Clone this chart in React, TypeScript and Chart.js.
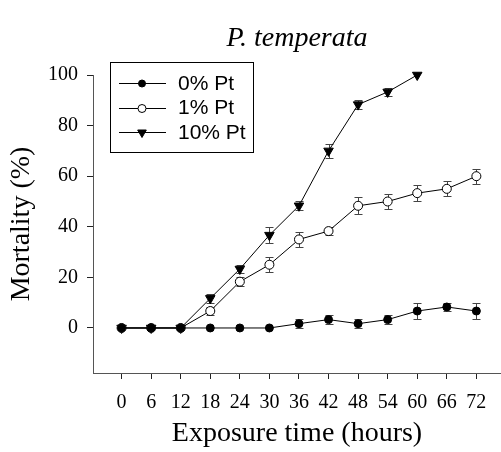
import React, { useEffect, useRef } from 'react';
import { Chart, registerables } from 'chart.js';
import { drawPoint } from 'chart.js/helpers';

Chart.register(...registerables);

// ---- data ----
const hours = [0, 6, 12, 18, 24, 30, 36, 42, 48, 54, 60, 66, 72];
const pt0Mean = [0, 0, 0, 0, 0, 0, 1.7, 3.3, 1.7, 3.3, 6.7, 8.3, 6.7];
const pt0Err = [0, 0, 0, 0, 0, 0, 1.7, 1.7, 1.7, 1.7, 3.3, 1.7, 3.3];
const pt1Mean = [0, 0, 0, 6.7, 18.3, 25, 35, 38.3, 48.3, 50, 53.3, 55, 60];
const pt1Err = [0, 0, 0, 1.7, 1.7, 2.9, 2.9, 1.7, 3.3, 2.9, 3.3, 3.0, 2.9];
const hours10 = [0, 6, 12, 18, 24, 30, 36, 42, 48, 54, 60];
const pt10Mean = [0, 0, 0, 11.7, 23.3, 36.7, 48.3, 70, 88.3, 93.3, 100];
const pt10Err = [0, 0, 0, 1.7, 1.7, 3.3, 1.7, 2.9, 1.7, 1.7, 0];
const seriesLabels = ['0% Pt', '1% Pt', '10% Pt'];
const xTickValues = [0, 6, 12, 18, 24, 30, 36, 42, 48, 54, 60, 66, 72];
const yTickValues = [0, 20, 40, 60, 80, 100];

const serif = '"Liberation Serif", "Times New Roman", serif';
const sans = '"Liberation Sans", Arial, sans-serif';

const errorBarsPlugin = {
  id: 'errorBars',
  beforeDatasetsDraw(chart: any) {
    const { ctx, scales } = chart;
    const xs = scales.x;
    const ys = scales.y;
    ctx.save();
    ctx.strokeStyle = '#444';
    ctx.lineWidth = 1;
    chart.data.datasets.forEach((ds: any) => {
      const errs: number[] = ds.errors || [];
      ds.data.forEach((p: any, j: number) => {
        const e = errs[j];
        if (!e) return;
        const px = Math.round(xs.getPixelForValue(p.x)) + 0.5;
        const yt = Math.round(ys.getPixelForValue(p.y + e)) + 0.5;
        const yb = Math.round(ys.getPixelForValue(p.y - e)) + 0.5;
        ctx.beginPath();
        ctx.moveTo(px, yt);
        ctx.lineTo(px, yb);
        ctx.moveTo(px - 4, yt);
        ctx.lineTo(px + 4, yt);
        ctx.moveTo(px - 4, yb);
        ctx.lineTo(px + 4, yb);
        ctx.stroke();
      });
    });
    ctx.restore();
  },
};

const legendBoxPlugin = {
  id: 'legendBox',
  afterDraw(chart: any) {
    const { ctx, chartArea } = chart;
    const bx = chartArea.left + 17;
    const by = chartArea.top - 13;
    const bw = 143;
    const bh = 90;
    ctx.save();
    ctx.strokeStyle = '#000';
    ctx.lineWidth = 1;
    ctx.strokeRect(bx + 0.5, by + 0.5, bw, bh);
    chart.data.datasets.forEach((ds: any, i: number) => {
      const cy = by + 21 + i * 24.5;
      ctx.strokeStyle = '#000';
      ctx.lineWidth = 1;
      ctx.beginPath();
      ctx.moveTo(bx + 9, Math.round(cy) + 0.5);
      ctx.lineTo(bx + 56, Math.round(cy) + 0.5);
      ctx.stroke();
      ctx.fillStyle = ds.pointBackgroundColor;
      ctx.strokeStyle = ds.pointBorderColor;
      drawPoint(
        ctx,
        {
          pointStyle: ds.pointStyle,
          radius: ds.pointRadius - 0.5,
          rotation: ds.pointRotation || 0,
          borderWidth: 1,
        } as any,
        bx + 32,
        Math.round(cy) + 0.5
      );
      ctx.fillStyle = '#000';
      ctx.font = `21px ${sans}`;
      ctx.textBaseline = 'middle';
      ctx.textAlign = 'left';
      ctx.fillText(ds.label, bx + 68, cy + 1);
    });
    ctx.restore();
  },
};

const toPoints = (xs: number[], ys: number[]) => xs.map((x, i) => ({ x, y: ys[i] }));

export default function App() {
  const canvasRef = useRef<HTMLCanvasElement | null>(null);

  useEffect(() => {
    if (!canvasRef.current) return;
    const chart = new Chart(canvasRef.current, {
      type: 'line',
      data: {
        datasets: [
          {
            label: seriesLabels[0],
            data: toPoints(hours, pt0Mean),
            errors: pt0Err,
            borderColor: '#000',
            borderWidth: 1,
            pointStyle: 'circle',
            pointRadius: 4,
            pointBackgroundColor: '#000',
            pointBorderColor: '#000',
            pointBorderWidth: 1,
            clip: false,
          } as any,
          {
            label: seriesLabels[1],
            data: toPoints(hours, pt1Mean),
            errors: pt1Err,
            borderColor: '#000',
            borderWidth: 1,
            pointStyle: 'circle',
            pointRadius: 4.5,
            pointBackgroundColor: '#fff',
            pointBorderColor: '#000',
            pointBorderWidth: 1,
            clip: false,
          } as any,
          {
            label: seriesLabels[2],
            data: toPoints(hours10, pt10Mean),
            errors: pt10Err,
            borderColor: '#000',
            borderWidth: 1,
            pointStyle: 'triangle',
            pointRotation: 180,
            pointRadius: 5.5,
            pointBackgroundColor: '#000',
            pointBorderColor: '#000',
            pointBorderWidth: 1,
            clip: false,
          } as any,
        ],
      },
      options: {
        animation: false,
        responsive: false,
        maintainAspectRatio: false,
        layout: { padding: 0, autoPadding: false },
        plugins: {
          legend: { display: false },
          tooltip: { enabled: false },
          title: {
            display: true,
            text: 'P. temperata',
            color: '#000',
            fullSize: false,
            font: { family: serif, size: 28, style: 'italic', weight: 'normal', lineHeight: 1.2 },
            padding: { top: 22, bottom: 19.4 },
          },
        },
        scales: {
          x: {
            type: 'linear',
            min: -5.8,
            max: 77,
            afterBuildTicks: (s: any) => {
              s.ticks = xTickValues.map((v) => ({ value: v }));
            },
            afterFit: (s: any) => {
              s.height = 79;
            },
            grid: { display: true, drawOnChartArea: false, drawTicks: true, tickLength: 6, color: '#222' },
            border: { display: true, color: '#555', width: 1 },
            ticks: {
              color: '#000',
              font: { family: serif, size: 20 },
              padding: 12,
              maxRotation: 0,
              autoSkip: false,
            },
            title: {
              display: true,
              text: 'Exposure time (hours)',
              color: '#000',
              font: { family: serif, size: 28, lineHeight: 1.2 },
              padding: { top: 0, bottom: 2 },
            },
          },
          y: {
            type: 'linear',
            min: -17.8,
            max: 100,
            afterBuildTicks: (s: any) => {
              s.ticks = yTickValues.map((v) => ({ value: v }));
            },
            afterFit: (s: any) => {
              s.width = 93;
            },
            grid: { display: true, drawOnChartArea: false, drawTicks: true, tickLength: 6, color: '#222' },
            border: { display: true, color: '#555', width: 1 },
            ticks: {
              color: '#000',
              font: { family: serif, size: 20 },
              padding: 9,
            },
            title: {
              display: true,
              text: 'Mortality (%)',
              color: '#000',
              font: { family: serif, size: 28, lineHeight: 1.2 },
              padding: { top: 5, bottom: 0 },
            },
          },
        },
      } as any,
      plugins: [errorBarsPlugin, legendBoxPlugin],
    });
    return () => chart.destroy();
  }, []);

  return (
    <div style={{ position: 'absolute', left: 0, top: 0, width: 501, height: 452, background: '#fff' }}>
      <canvas ref={canvasRef} width={501} height={452} style={{ display: 'block' }} />
    </div>
  );
}
